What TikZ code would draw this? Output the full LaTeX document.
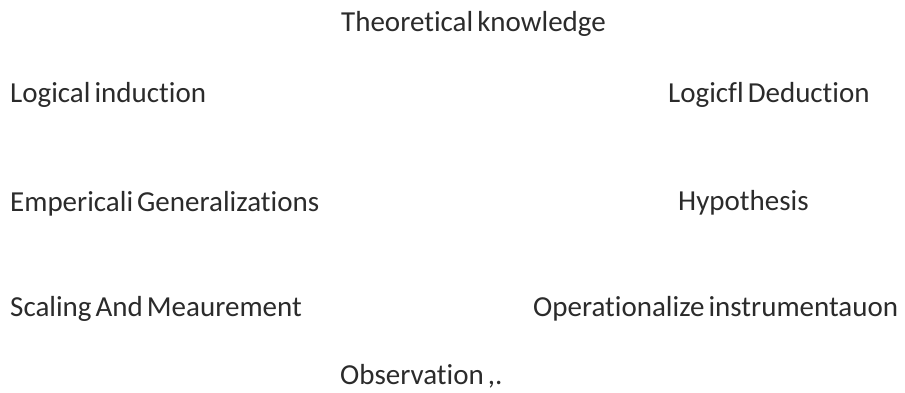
\documentclass[tikz,border=0pt]{standalone}
\usepackage{fontspec}
\setmainfont{Carlito}[RawFeature={-liga;-clig;-dlig}]
\definecolor{txt}{HTML}{2B2B2B}
\newcommand{\lblfont}{\fontsize{29}{34}\selectfont\spaceskip=0.14em plus 0.05em\relax}
\begin{document}
\begin{tikzpicture}[x=1pt,y=1pt,
  lbl/.style={anchor=base west, inner sep=0pt, text=txt, font=\lblfont}]
\useasboundingbox[fill=white] (0,0) rectangle (905,393);
\node[lbl] (theory) at (341,361) {Theoretical knowledge};
\node[lbl] (induct) at (10,290) {Logical induction};
\node[lbl] (deduct) at (668,290) {Logicfl Deduction};
\node[lbl] (emp) at (10,181) {Empericali Generalizations};
\node[lbl] (hyp) at (678,182) {Hypothesis};
\node[lbl] (scal) at (10,76) {Scaling And Meaurement};
\node[lbl] (oper) at (533,76) {Operationalize instrumentauon};
\node[lbl] (obs) at (340,8) {Observation ,.};
\end{tikzpicture}
\end{document}
